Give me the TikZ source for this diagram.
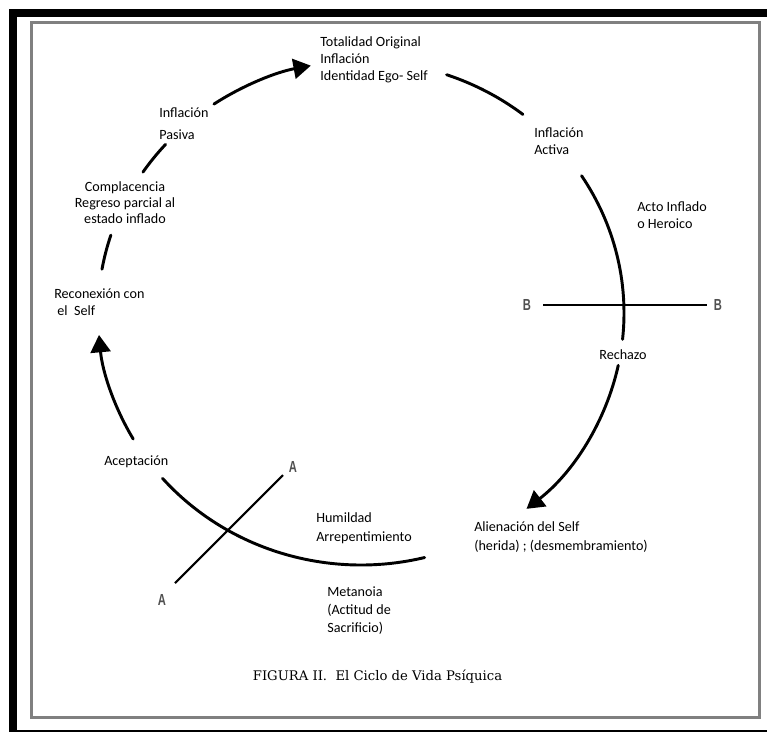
\documentclass[tikz,border=0pt]{standalone}
\usepackage{fontspec}
\setmainfont{Carlito}
\newfontfamily\capfont{DejaVu Serif}
\newfontfamily\markfont{Liberation Sans}
\usetikzlibrary{arrows.meta, calc}
\definecolor{framegray}{HTML}{808080}
\definecolor{markgray}{HTML}{505050}

\begin{document}
\begin{tikzpicture}[x=0.75pt, y=-0.75pt,
    cycle arc/.style={line width=2.2pt, line cap=round},
    cycle arrow/.style={cycle arc, -{Triangle[length=13pt, width=15pt]}},
    lbl/.style={font=\fontsize{10.6}{#1}\selectfont, align=left, anchor=west, inner sep=0pt},
    lbl/.default=12.75,
    cut line/.style={line width=1.6pt},
    cut mark/.style={font=\markfont\bfseries\fontsize{12}{12}\selectfont, text=markgray, inner sep=0pt, xscale=0.7},
]
    \useasboundingbox (0,0) rectangle (767,732);

    % Frame
    \fill (9,9) rectangle (767,17);
    \fill (9,9) rectangle (17,732);
    \draw[line width=0.9pt] (9,731) -- (767,731);
    \draw[framegray, line width=2.25pt] (31.5,22.5) rectangle (759,717);

    % Cycle
    \coordinate (c) at (361,313);
    \draw[cycle arrow] ($(c)+(236:263 and 252)$) arc[start angle=236, end angle=259, x radius=263, y radius=252];
    \draw[cycle arc] ($(c)+(-71:263 and 252)$) arc[start angle=-71, end angle=-52, x radius=263, y radius=252];
    \draw[cycle arc] ($(c)+(-33:263 and 252)$) arc[start angle=-33, end angle=6, x radius=263, y radius=252];
    \draw[cycle arrow] ($(c)+(12:263 and 252)$) arc[start angle=12, end angle=51, x radius=263, y radius=252];
    \draw[cycle arc] ($(c)+(76:263 and 252)$) arc[start angle=76, end angle=139, x radius=263, y radius=252];
    \draw[cycle arrow] ($(c)+(150:263 and 252)$) arc[start angle=150, end angle=175, x radius=263, y radius=252];
    \draw[cycle arc] ($(c)+(190:263 and 252)$) arc[start angle=190, end angle=198, x radius=263, y radius=252];
    \draw[cycle arc] ($(c)+(214:263 and 252)$) arc[start angle=214, end angle=222, x radius=263, y radius=252];

    % Cuts A-A and B-B
    \node[cut mark] (b1) at (527,305) {B};
    \node[cut mark] (b2) at (718,305) {B};
    \draw[cut line] (b1) ++(16,0) coordinate (b1e) -- ($(b2)+(-11,0)$) coordinate (b2e);
    \node[cut mark] (a1) at (162,600) {A};
    \node[cut mark] (a2) at (293,467) {A};
    \draw[cut line] ($(a1)+(13,-17)$) coordinate (a1e) -- ($(a2)+(-10,8)$) coordinate (a2e);

    % Stages
    \node[lbl=12.9] (totalidad) at (320,60) {Totalidad Original\\Inflación\\Identidad Ego- Self};
    \node[lbl=12.9] (activa) at (534,141) {Inflación\\Activa};
    \node[lbl=12.9] (acto) at (637,215) {Acto Inflado\\o Heroico};
    \node[lbl, anchor=center] (rechazo) at (623,355) {Rechazo};
    \node[lbl=14.25] (alienacion) at (474,537) {Alienación del Self\\(herida) ; (desmembramiento)};
    \node[lbl=14.25] (humildad) at (316,528) {Humildad\\Arrepentimiento};
    \node[lbl=13.5] (metanoia) at (327,611) {Metanoia\\(Actitud de\\Sacrificio)};
    \node[lbl] (aceptacion) at (104,462) {Aceptación};
    \node[lbl=12.9] (reconexion) at (54,302) {Reconexión con\\\ el\ \ Self};
    \node[lbl=12, align=center, anchor=center] (complacencia) at (125,203) {Complacencia\\Regreso parcial al\\estado inflado};
    \node[lbl=16.5] (pasiva) at (159,124) {Inflación\\Pasiva};

    % Caption
    \node[font=\capfont\fontsize{9.9}{12}\selectfont, text=black] (caption) at (377.5,677) {FIGURA II.\ \ El Ciclo de Vida Psíquica};
\end{tikzpicture}
\end{document}
